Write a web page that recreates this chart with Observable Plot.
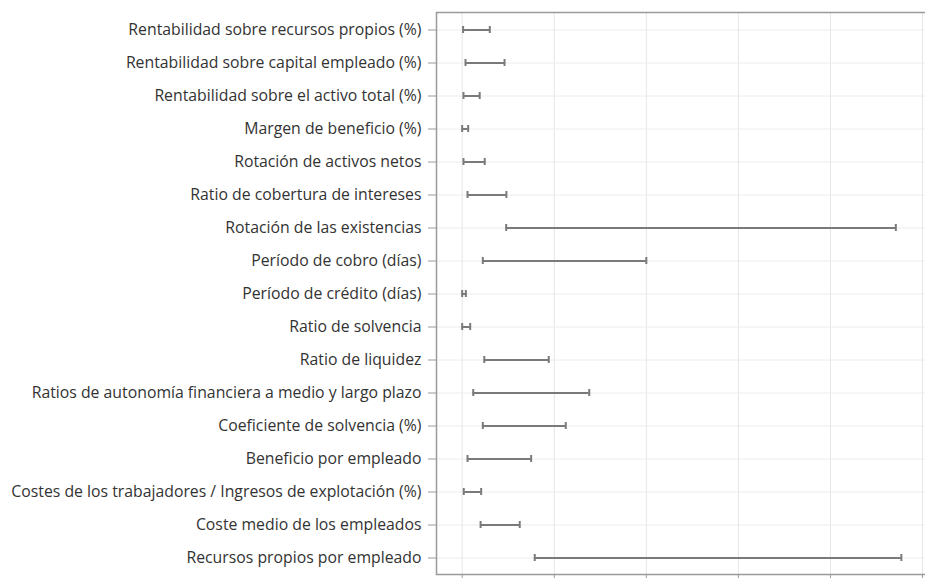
<!DOCTYPE html>
<html>
<head>
<meta charset="utf-8">
<script src="https://cdn.jsdelivr.net/npm/d3@7"></script>
<script src="https://cdn.jsdelivr.net/npm/@observablehq/plot@0.6"></script>
<style>
  html, body { margin: 0; padding: 0; background: #fff; overflow: hidden; }
  #chart { width: 925px; height: 578px; overflow: hidden; }
  #chart svg { display: block; max-width: none !important; width: 935px !important; height: 604px !important; }
</style>
</head>
<body>
<div id="chart"></div>
<script>
const categories = [
  "Rentabilidad sobre recursos propios (%)",
  "Rentabilidad sobre capital empleado (%)",
  "Rentabilidad sobre el activo total (%)",
  "Margen de beneficio (%)",
  "Rotación de activos netos",
  "Ratio de cobertura de intereses",
  "Rotación de las existencias",
  "Período de cobro (días)",
  "Período de crédito (días)",
  "Ratio de solvencia",
  "Ratio de liquidez",
  "Ratios de autonomía financiera a medio y largo plazo",
  "Coeficiente de solvencia (%)",
  "Beneficio por empleado",
  "Costes de los trabajadores / Ingresos de explotación (%)",
  "Coste medio de los empleados",
  "Recursos propios por empleado"
];
const lowValues  = [0.01, 0.036, 0.014, 0.0, 0.014, 0.058, 0.478, 0.224, 0.0, 0.0, 0.24, 0.12, 0.224, 0.058, 0.017, 0.20, 0.788];
const highValues = [0.30, 0.46, 0.19, 0.065, 0.245, 0.48, 4.71, 2.0, 0.04, 0.087, 0.94, 1.38, 1.125, 0.749, 0.206, 0.625, 4.77];
const xTicks = [0, 1, 2, 3, 4, 5];

const data = categories.map((c, i) => ({cat: c, lo: lowValues[i], hi: highValues[i]}));

const lineColor = "#7a7a7a";
const chart = Plot.plot({
  width: 935,
  height: 604,
  marginLeft: 436,
  marginRight: 1,
  marginTop: 12,
  marginBottom: 30,
  style: {fontFamily: "'Open Sans', sans-serif", fontSize: "15.8px", color: "#333", background: "#fff", maxWidth: "none"},
  x: {domain: [-0.279, 5.13], ticks: xTicks, tickFormat: () => "", tickSize: 6, label: null},
  y: {type: "band", domain: categories, range: [13.2, 574.2], padding: 0, label: null},
  marks: [
    Plot.gridX(xTicks, {stroke: "#e6e6e6", strokeOpacity: 1}),
    Plot.gridY(categories, {stroke: "#ececec", strokeOpacity: 1}),
    Plot.frame({stroke: "#9a9a9a", strokeWidth: 1.5}),
    Plot.axisY({tickSize: 8, tickPadding: 7, stroke: "#9a9a9a", label: null, fontSize: 15.8}),
    Plot.axisX({ticks: xTicks, tickFormat: () => "", tickSize: 6, stroke: "#9a9a9a", label: null}),
    Plot.ruleY(data, {y: "cat", x1: "lo", x2: "hi", stroke: lineColor, strokeWidth: 2}),
    Plot.tickX(data, {y: "cat", x: "lo", stroke: lineColor, strokeWidth: 2, insetTop: 13, insetBottom: 13}),
    Plot.tickX(data, {y: "cat", x: "hi", stroke: lineColor, strokeWidth: 2, insetTop: 13, insetBottom: 13})
  ]
});
document.getElementById("chart").appendChild(chart);
</script>
</body>
</html>
